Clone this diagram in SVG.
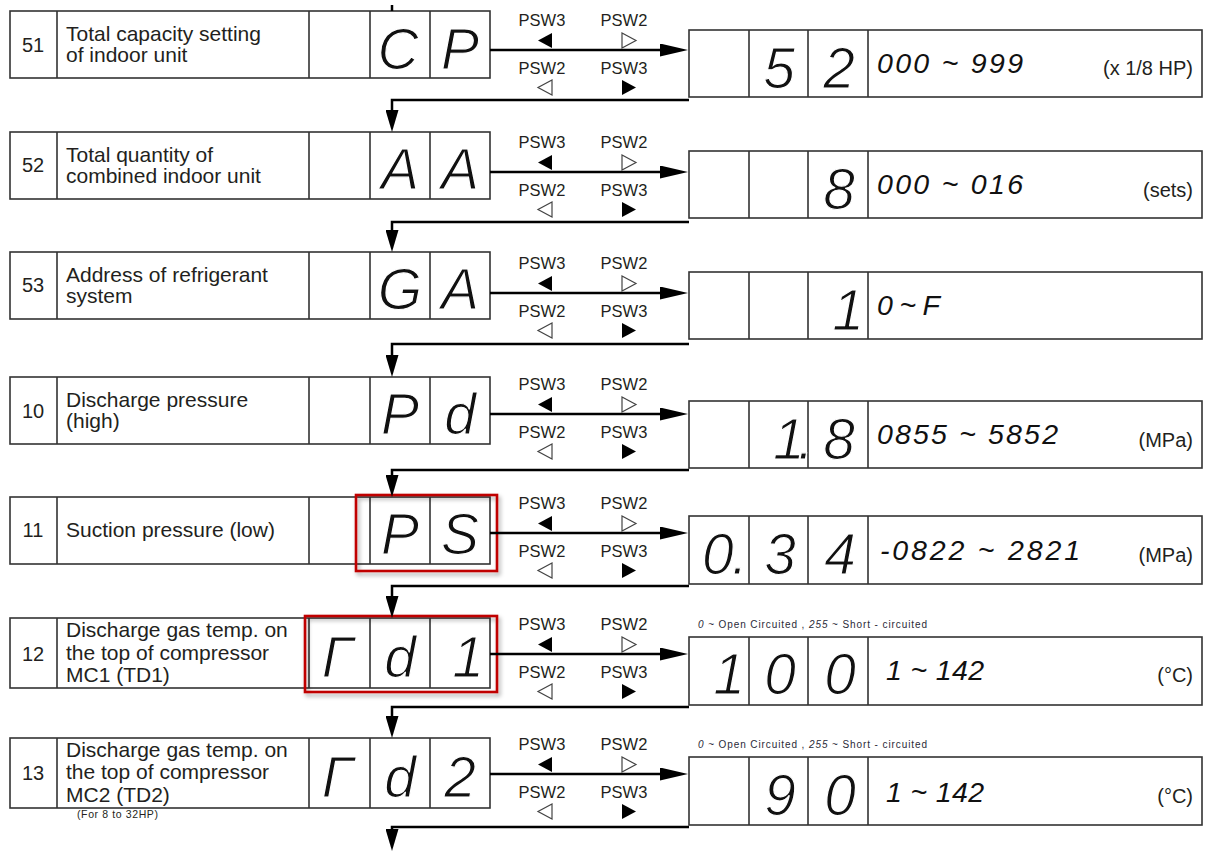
<svg xmlns="http://www.w3.org/2000/svg" width="1207" height="852" viewBox="0 0 1207 852">
<style>
.bx{fill:#fff;stroke:#333;stroke-width:1.6}
.dv{stroke:#333;stroke-width:1.6}
.t{font-family:"Liberation Sans",Arial,sans-serif;fill:#231f20}
.d{font-size:21px}
.n{font-size:20px;text-anchor:middle}
.p{font-size:16.5px;text-anchor:middle}
.u{font-size:20px;text-anchor:end}
.s{font-family:"Liberation Sans",Arial,sans-serif;font-style:italic;font-size:57px;text-anchor:middle;fill:#111;stroke:#fff;stroke-width:1.2px}
.sd{text-anchor:start}
.r{font-family:"Liberation Sans",Arial,sans-serif;font-style:italic;font-size:28.5px;fill:#111}
.sm{font-size:10px;fill:#2a2a38}
.smm{font-style:italic}
.cn{fill:none;stroke:#000;stroke-width:2.5}
.tf{fill:#000}
.to{fill:#fff;stroke:#444;stroke-width:1.2}
.hl{fill:none;stroke:#c00000;stroke-width:2.6}
</style>
<defs>
<marker id="ah" markerUnits="userSpaceOnUse" markerWidth="28" markerHeight="13" viewBox="0 0 28 13" refX="10" refY="6.5" orient="auto"><path d="M0,0 L28,6.5 L0,13 Z" fill="#000"/></marker>
<marker id="ad" markerUnits="userSpaceOnUse" markerWidth="22" markerHeight="13" viewBox="0 0 22 13" refX="10" refY="6.5" orient="auto"><path d="M0,0 L22,6.5 L0,13 Z" fill="#000"/></marker>
<path id="tl" d="M14,0 L14,15 L0,7.5 Z"/>
<path id="tr" d="M0,0 L0,15 L14,7.5 Z"/>
<filter id="sh" x="-10%" y="-10%" width="130%" height="140%"><feDropShadow dx="2" dy="3" stdDeviation="2" flood-color="#000" flood-opacity="0.35"/></filter>
</defs>

<g id="row51">
<rect class="bx" x="10" y="11" width="480" height="67"/>
<path class="dv" d="M57,11V78M309,11V78M370,11V78M430,11V78"/>
<text class="t n" x="33" y="52">51</text>
<text class="t d" x="66" y="41">Total capacity setting</text>
<text class="t d" x="66" y="62">of indoor unit</text>
<text class="s" x="398" y="69">C</text>
<text class="s" x="460" y="69">P</text>
<rect class="bx" x="689" y="30" width="513" height="67"/>
<path class="dv" d="M749,30V97M808,30V97M868,30V97"/>
<text class="s" x="779" y="88">5</text>
<text class="s" x="839" y="88">2</text>
<text class="r" x="877" y="73" textLength="146">000 ~ 999</text>
<text class="t u" x="1193" y="75">(x 1/8 HP)</text>
</g>

<g id="row52">
<rect class="bx" x="10" y="132" width="480" height="67"/>
<path class="dv" d="M57,132V199M309,132V199M370,132V199M430,132V199"/>
<text class="t n" x="33" y="172">52</text>
<text class="t d" x="66" y="162">Total quantity of</text>
<text class="t d" x="66" y="183">combined indoor unit</text>
<text class="s" x="400" y="189">A</text>
<text class="s" x="460" y="189">A</text>
<rect class="bx" x="689" y="151" width="513" height="67"/>
<path class="dv" d="M749,151V218M808,151V218M868,151V218"/>
<text class="s" x="839" y="209">8</text>
<text class="r" x="877" y="194" textLength="146">000 ~ 016</text>
<text class="t u" x="1193" y="197">(sets)</text>
</g>

<g id="row53">
<rect class="bx" x="10" y="252" width="480" height="67"/>
<path class="dv" d="M57,252V319M309,252V319M370,252V319M430,252V319"/>
<text class="t n" x="33" y="292">53</text>
<text class="t d" x="66" y="282">Address of refrigerant</text>
<text class="t d" x="66" y="303">system</text>
<text class="s" x="400" y="309">G</text>
<text class="s" x="460" y="309">A</text>
<rect class="bx" x="689" y="272" width="513" height="67"/>
<path class="dv" d="M749,272V339M808,272V339M868,272V339"/>
<text class="s" x="848" y="330">1</text>
<text class="r" x="877" y="315" textLength="63">0 ~ F</text>
</g>

<g id="row10">
<rect class="bx" x="10" y="377" width="480" height="67"/>
<path class="dv" d="M57,377V444M309,377V444M370,377V444M430,377V444"/>
<text class="t n" x="33" y="418">10</text>
<text class="t d" x="66" y="407">Discharge pressure</text>
<text class="t d" x="66" y="428">(high)</text>
<text class="s" x="400" y="434">P</text>
<text class="s" x="460" y="434">d</text>
<rect class="bx" x="689" y="401" width="513" height="67"/>
<path class="dv" d="M749,401V468M808,401V468M868,401V468"/>
<text class="s sd" x="773" y="459" letter-spacing="-7">1.</text>
<text class="s" x="839" y="459">8</text>
<text class="r" x="877" y="444" textLength="181">0855 ~ 5852</text>
<text class="t u" x="1193" y="447">(MPa)</text>
</g>

<g id="row11">
<rect class="bx" x="10" y="497" width="480" height="67"/>
<path class="dv" d="M57,497V564M309,497V564M370,497V564M430,497V564"/>
<text class="t n" x="33" y="537">11</text>
<text class="t d" x="66" y="537">Suction pressure (low)</text>
<text class="s" x="400" y="554">P</text>
<text class="s" x="460" y="554">S</text>
<rect class="bx" x="689" y="516" width="513" height="68"/>
<path class="dv" d="M749,516V584M808,516V584M868,516V584"/>
<text class="s sd" x="702" y="574" letter-spacing="-2">0.</text>
<text class="s" x="780" y="574">3</text>
<text class="s" x="840" y="574">4</text>
<text class="r" x="880" y="560" textLength="200">-0822 ~ 2821</text>
<text class="t u" x="1193" y="562">(MPa)</text>
<rect class="hl" x="356" y="495" width="141" height="76" filter="url(#sh)"/>
</g>

<g id="row12">
<rect class="bx" x="10" y="618" width="480" height="70"/>
<path class="dv" d="M57,618V688M309,618V688M370,618V688M430,618V688"/>
<text class="t n" x="33" y="661">12</text>
<text class="t d" x="66" y="637">Discharge gas temp. on</text>
<text class="t d" x="66" y="660">the top of compressor</text>
<text class="t d" x="66" y="682">MC1 (TD1)</text>
<text class="s" x="338" y="677">Γ</text>
<text class="s" x="400" y="677">d</text>
<text class="s" x="468" y="677">1</text>
<text class="t sm" x="698" y="628" textLength="229"><tspan class="smm">0</tspan> ~ Open Circuited , <tspan class="smm">255</tspan> ~ Short - circuited</text>
<rect class="bx" x="689" y="637" width="513" height="68"/>
<path class="dv" d="M749,637V705M808,637V705M868,637V705"/>
<text class="s" x="729" y="694">1</text>
<text class="s" x="780" y="694">0</text>
<text class="s" x="840" y="694">0</text>
<text class="r" x="886" y="680" textLength="98">1 ~ 142</text>
<text class="t u" x="1193" y="682">(°C)</text>
<rect class="hl" x="305" y="616" width="192" height="76" filter="url(#sh)"/>
</g>

<g id="row13">
<rect class="bx" x="10" y="738" width="480" height="70"/>
<path class="dv" d="M57,738V808M309,738V808M370,738V808M430,738V808"/>
<text class="t n" x="33" y="780">13</text>
<text class="t d" x="66" y="757">Discharge gas temp. on</text>
<text class="t d" x="66" y="779">the top of compressor</text>
<text class="t d" x="66" y="802">MC2 (TD2)</text>
<text class="t" x="77" y="818" font-size="10.5" textLength="81">(For 8 to 32HP)</text>
<text class="s" x="338" y="797">Γ</text>
<text class="s" x="400" y="797">d</text>
<text class="s" x="460" y="797">2</text>
<text class="t sm" x="698" y="748" textLength="229"><tspan class="smm">0</tspan> ~ Open Circuited , <tspan class="smm">255</tspan> ~ Short - circuited</text>
<rect class="bx" x="689" y="757" width="513" height="68"/>
<path class="dv" d="M749,757V825M808,757V825M868,757V825"/>
<text class="s" x="780" y="815">9</text>
<text class="s" x="840" y="815">0</text>
<text class="r" x="886" y="802" textLength="98">1 ~ 142</text>
<text class="t u" x="1193" y="803">(°C)</text>
</g>

<g id="connectors">
<path class="cn" d="M392,5V11"/>
<path class="cn" d="M490,50H670" marker-end="url(#ah)"/>
<path class="cn" d="M490,172H670" marker-end="url(#ah)"/>
<path class="cn" d="M490,293H670" marker-end="url(#ah)"/>
<path class="cn" d="M490,414H670" marker-end="url(#ah)"/>
<path class="cn" d="M490,533H670" marker-end="url(#ah)"/>
<path class="cn" d="M490,654H670" marker-end="url(#ah)"/>
<path class="cn" d="M490,774H670" marker-end="url(#ah)"/>
<path class="cn" d="M689,100H392V120" marker-end="url(#ad)"/>
<path class="cn" d="M689,222H392V240" marker-end="url(#ad)"/>
<path class="cn" d="M689,344H392V365" marker-end="url(#ad)"/>
<path class="cn" d="M689,470H392V485" marker-end="url(#ad)"/>
<path class="cn" d="M689,586H392V606" marker-end="url(#ad)"/>
<path class="cn" d="M689,707H392V726" marker-end="url(#ad)"/>
<path class="cn" d="M689,827H392V839" marker-end="url(#ad)"/>
</g>

<g id="psw-labels">
<text class="t p" x="542" y="26">PSW3</text><text class="t p" x="624" y="26">PSW2</text>
<use href="#tl" class="tf" x="538" y="33"/><use href="#tr" class="to" x="622" y="33"/>
<text class="t p" x="542" y="74">PSW2</text><text class="t p" x="624" y="74">PSW3</text>
<use href="#tl" class="to" x="538" y="80"/><use href="#tr" class="tf" x="622" y="80"/>

<text class="t p" x="542" y="148">PSW3</text><text class="t p" x="624" y="148">PSW2</text>
<use href="#tl" class="tf" x="538" y="155"/><use href="#tr" class="to" x="622" y="155"/>
<text class="t p" x="542" y="196">PSW2</text><text class="t p" x="624" y="196">PSW3</text>
<use href="#tl" class="to" x="538" y="202"/><use href="#tr" class="tf" x="622" y="202"/>

<text class="t p" x="542" y="269">PSW3</text><text class="t p" x="624" y="269">PSW2</text>
<use href="#tl" class="tf" x="538" y="276"/><use href="#tr" class="to" x="622" y="276"/>
<text class="t p" x="542" y="317">PSW2</text><text class="t p" x="624" y="317">PSW3</text>
<use href="#tl" class="to" x="538" y="323"/><use href="#tr" class="tf" x="622" y="323"/>

<text class="t p" x="542" y="390">PSW3</text><text class="t p" x="624" y="390">PSW2</text>
<use href="#tl" class="tf" x="538" y="397"/><use href="#tr" class="to" x="622" y="397"/>
<text class="t p" x="542" y="438">PSW2</text><text class="t p" x="624" y="438">PSW3</text>
<use href="#tl" class="to" x="538" y="444"/><use href="#tr" class="tf" x="622" y="444"/>

<text class="t p" x="542" y="509">PSW3</text><text class="t p" x="624" y="509">PSW2</text>
<use href="#tl" class="tf" x="538" y="516"/><use href="#tr" class="to" x="622" y="516"/>
<text class="t p" x="542" y="557">PSW2</text><text class="t p" x="624" y="557">PSW3</text>
<use href="#tl" class="to" x="538" y="563"/><use href="#tr" class="tf" x="622" y="563"/>

<text class="t p" x="542" y="630">PSW3</text><text class="t p" x="624" y="630">PSW2</text>
<use href="#tl" class="tf" x="538" y="637"/><use href="#tr" class="to" x="622" y="637"/>
<text class="t p" x="542" y="678">PSW2</text><text class="t p" x="624" y="678">PSW3</text>
<use href="#tl" class="to" x="538" y="684"/><use href="#tr" class="tf" x="622" y="684"/>

<text class="t p" x="542" y="750">PSW3</text><text class="t p" x="624" y="750">PSW2</text>
<use href="#tl" class="tf" x="538" y="757"/><use href="#tr" class="to" x="622" y="757"/>
<text class="t p" x="542" y="798">PSW2</text><text class="t p" x="624" y="798">PSW3</text>
<use href="#tl" class="to" x="538" y="804"/><use href="#tr" class="tf" x="622" y="804"/>
</g>
</svg>
